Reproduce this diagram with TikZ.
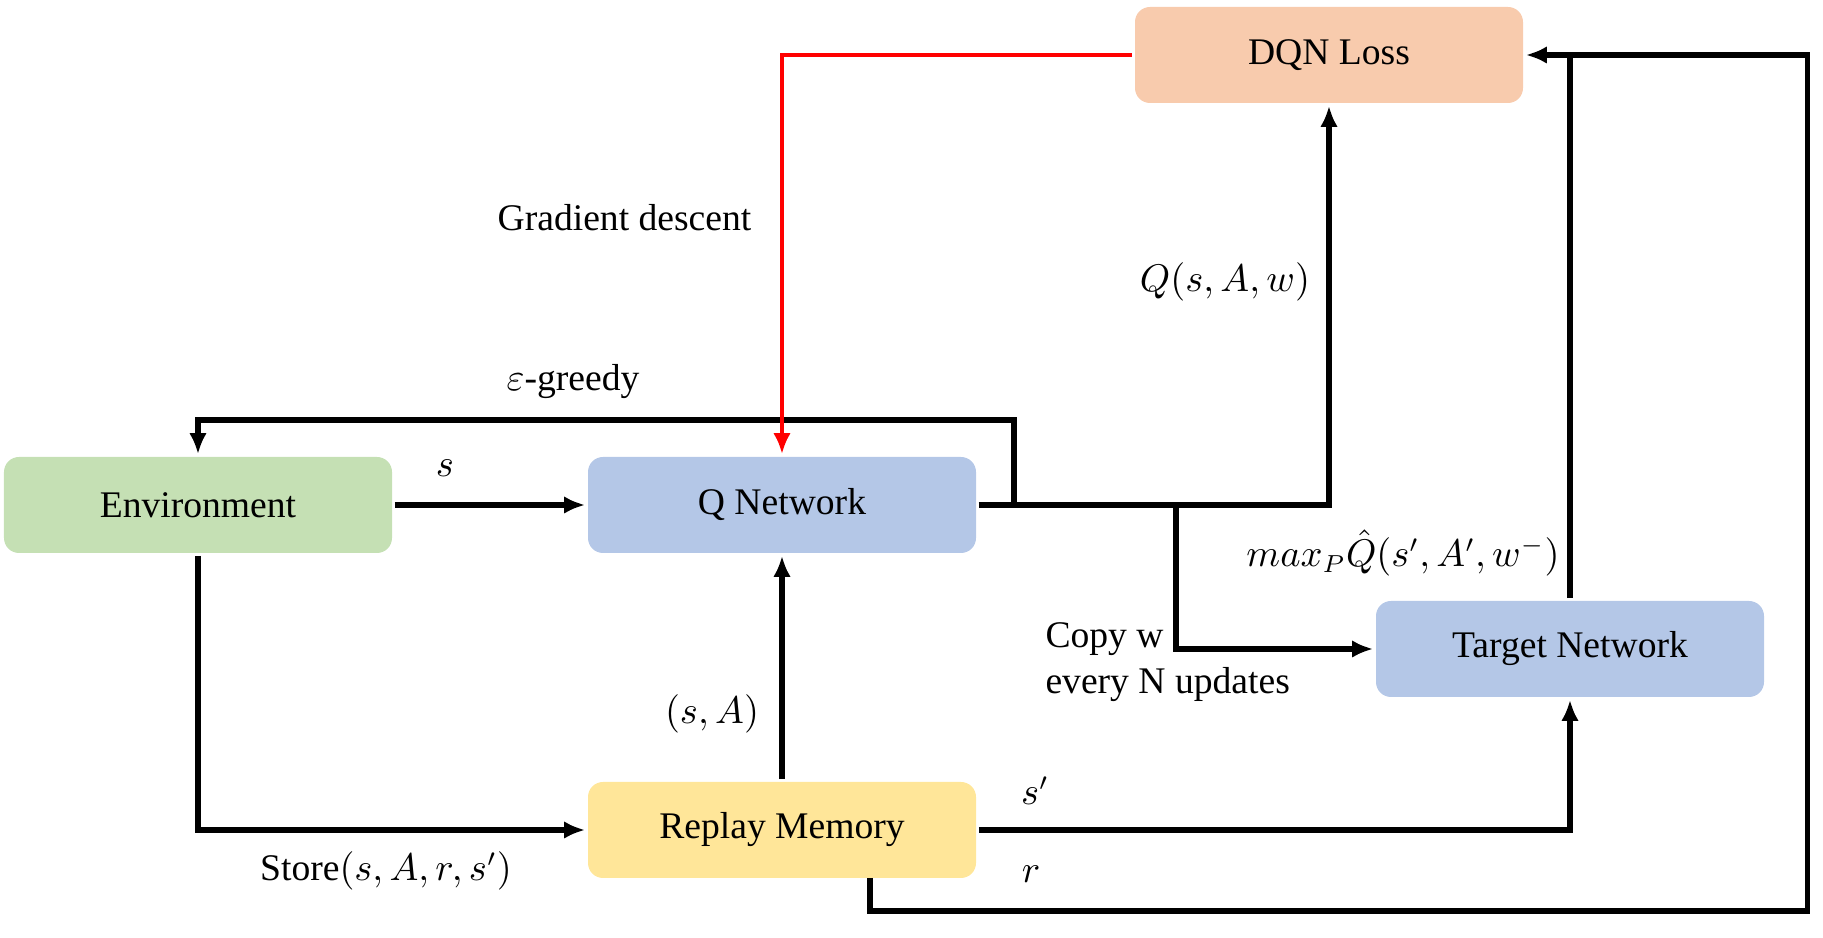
\documentclass[tikz,border=0pt]{standalone}
\usepackage{fontspec}
\setmainfont{Liberation Serif}
\usetikzlibrary{arrows.meta}

\definecolor{lossfill}{HTML}{F8CBAD}
\definecolor{envfill}{HTML}{C5E0B4}
\definecolor{netfill}{HTML}{B4C7E7}
\definecolor{memfill}{HTML}{FFE699}

\begin{document}
\begin{tikzpicture}[> = {Latex[length = 6pt, width = 5pt]}, line width = 1.6pt,
	font = \rmfamily\fontsize{10.7}{13}\selectfont,
	block/.style = {rounded corners = 0.15cm, minimum width = 3.88cm, minimum height = 0.96cm, inner sep = 0pt}]

	\useasboundingbox (0, 0) rectangle (18.23, 9.38);

	% Boxes
	
	\node [block, fill = lossfill] (loss) at (13.29, 8.83) {DQN Loss};
	\node [block, fill = envfill] (env) at (1.98, 4.33) {Environment};
	\node [block, fill = netfill] (qnet) at (7.82, 4.33) {Q Network};
	\node [block, fill = netfill] (target) at (15.70, 2.89) {Target Network};
	\node [block, fill = memfill] (replay) at (7.82, 1.08) {Replay Memory};
	
	% Corners of the long lines
	
	\coordinate (eps-corner) at (10.14, 5.18);
	\coordinate (copy-split) at (11.76, 4.33);
	\coordinate (r-out) at (8.70, 0.60);
	\coordinate (r-corner) at (18.075, 0.27);
	
	% Connectors
	
	\draw [->] (env) -- (qnet);
	\draw [->] (env.south) |- (replay.west);
	\draw [->] (replay) -- (qnet);
	\draw [->] (replay.east) -| (target.south);
	\draw [->] (qnet.east) -| (eps-corner) -| (env.north);
	\draw [->] (qnet.east) -| (loss.south);
	\draw [->] (copy-split) |- (target.west);
	\draw (target.north) -- (target.north |- loss.east);
	\draw [->] (r-out) |- (r-corner) |- (loss.east);
	\draw [->, red, line width = 1.2pt] (loss.west) -| (qnet.north);
	
	% Labels
	
	\node (grad-label) at (6.245, 7.20) {Gradient descent};
	\node (qval-label) at (12.25, 6.56) {$Q(s,A,w)$};
	\node (eps-label) at (5.73, 5.56) {$\varepsilon$-greedy};
	\node (s-label) at (4.45, 4.70) {$s$};
	\node (max-label) at (14.03, 3.85) {$max_P\hat{Q}(s',A',w^-)$};
	\node [anchor = west, align = left] (copy-label) at (10.31, 2.76) {Copy w\\every N updates};
	\node (sa-label) at (7.12, 2.24) {$(s,A)$};
	\node (store-label) at (3.86, 0.67) {Store$(s,A,r,s')$};
	\node (s2-label) at (10.35, 1.47) {$s'$};
	\node (r-label) at (10.31, 0.64) {$r$};
	
\end{tikzpicture}
\end{document}
